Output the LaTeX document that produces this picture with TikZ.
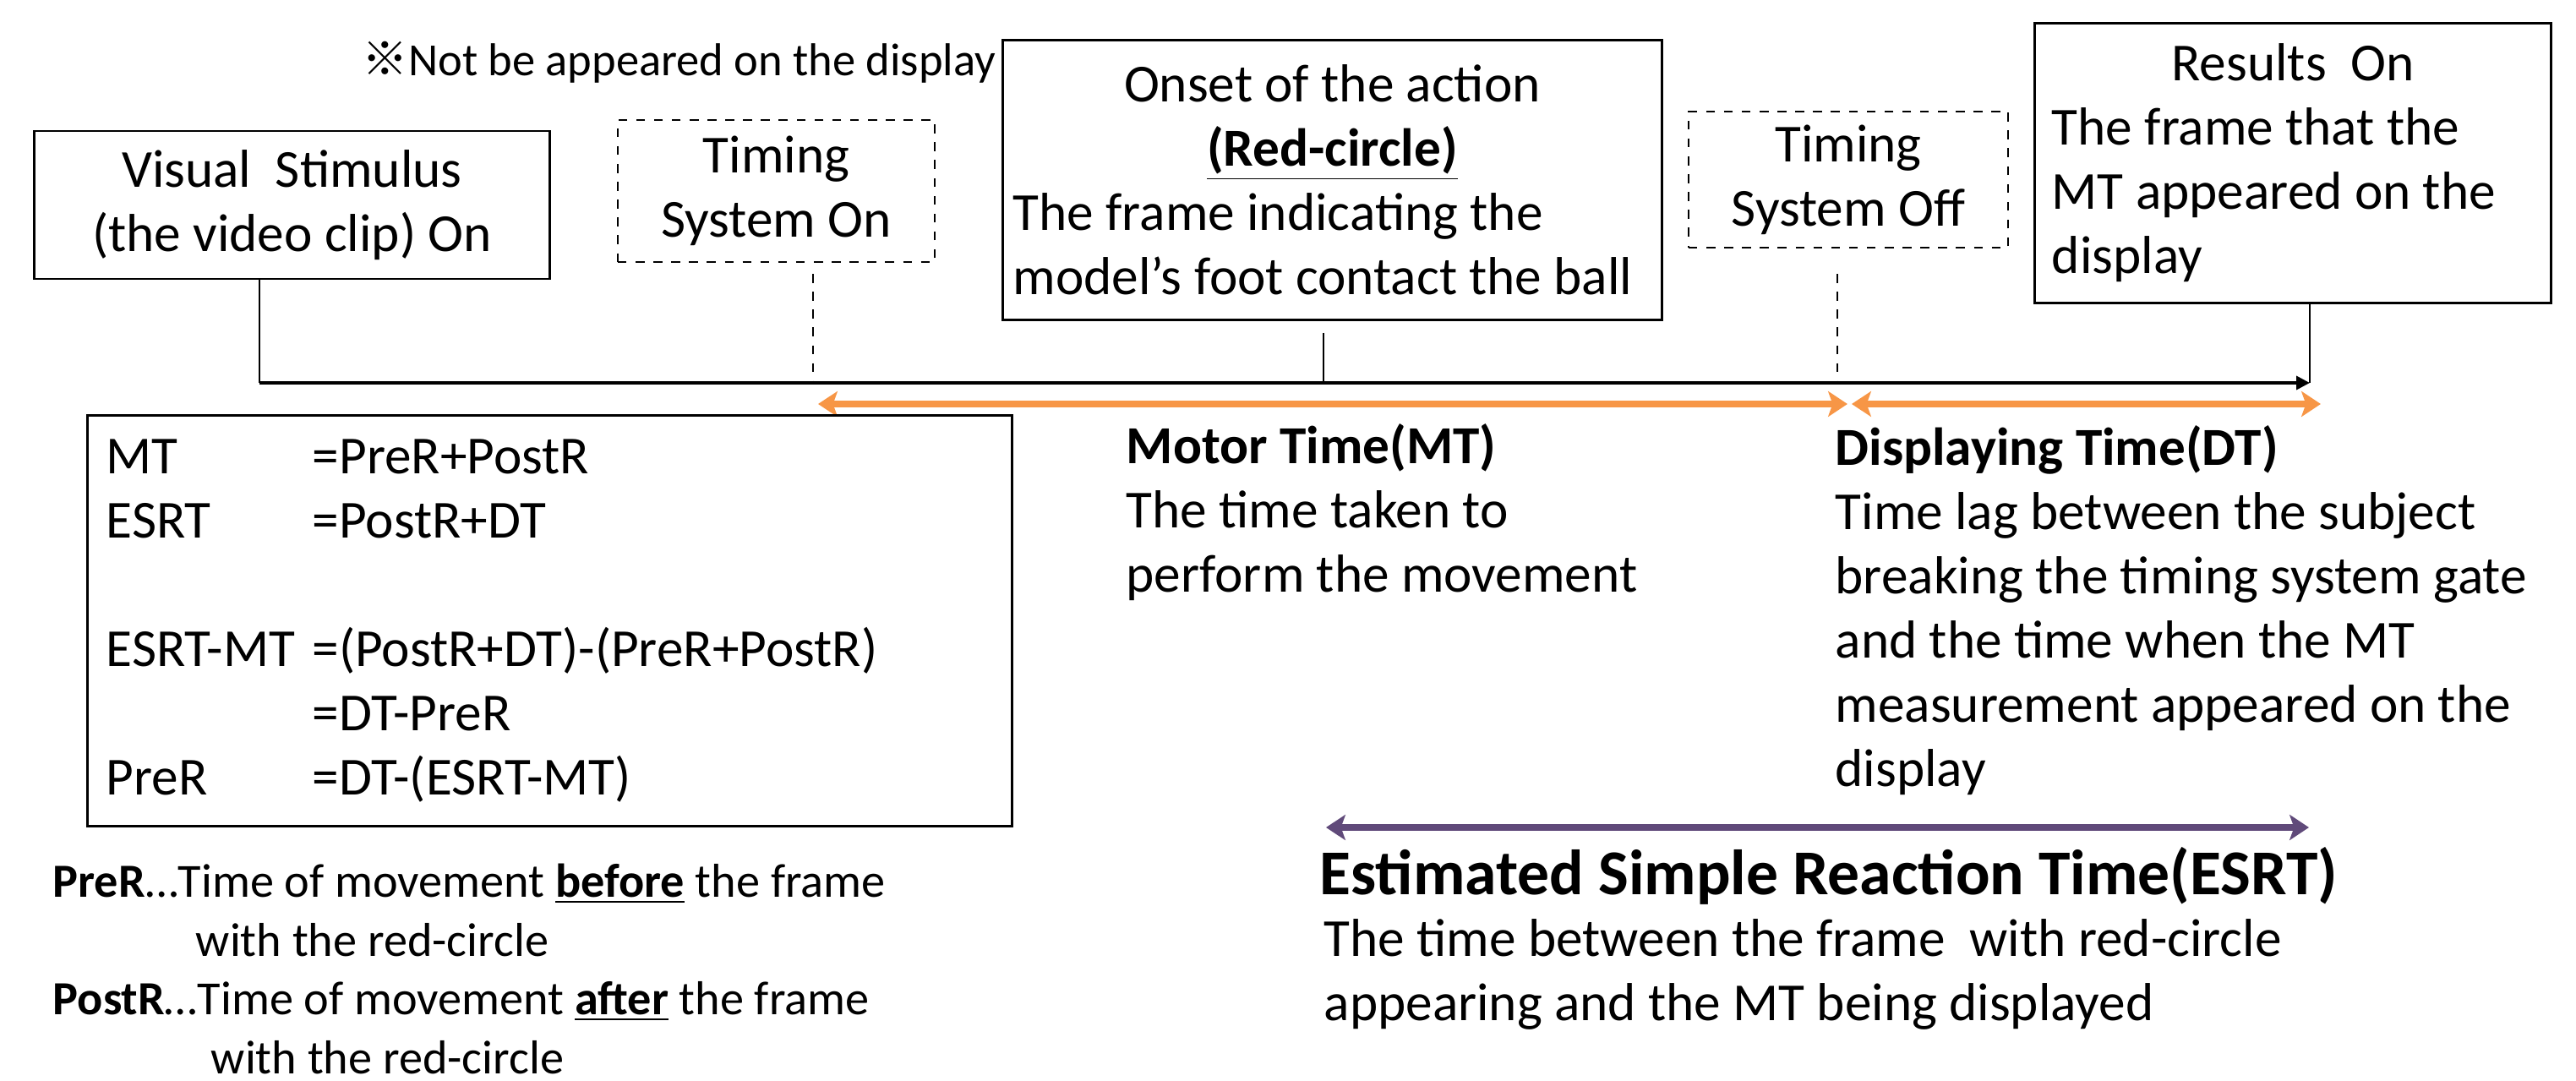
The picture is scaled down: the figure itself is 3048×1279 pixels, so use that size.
\documentclass[tikz,border=0pt]{standalone}
\usepackage{fontspec}
\setmainfont{Carlito}
\newfontfamily\cjkfont{Noto Sans CJK JP}
\usetikzlibrary{arrows.meta,positioning}
\definecolor{spanorange}{RGB}{247,150,70}
\definecolor{spanpurple}{RGB}{96,74,122}

\begin{document}
\begin{tikzpicture}[x=0.01cm,y=-0.01cm,
    font=\fontsize{18}{21.6}\selectfont,
    box/.style={draw,line width=0.8pt,inner sep=0pt},
    dbox/.style={draw,dashed,line width=0.6pt,inner sep=0pt},
    txt/.style={inner sep=0pt,anchor=west,align=left},
    tick/.style={line width=0.5pt},
    span/.style={line width=2.2pt,{Stealth[length=6.5pt,width=8.5pt,inset=1.5pt]}-{Stealth[length=6.5pt,width=8.5pt,inset=1.5pt]}}]
  \useasboundingbox (0,0) rectangle (3048,1279);
  % events above the time line
  \node (vis) [box,minimum width=6.09cm,minimum height=1.75cm,align=center] at (345.5,242.5) {Visual\ \ Stimulus\\(the video clip) On};
  \node (ton) [dbox,minimum width=3.75cm,minimum height=1.68cm,align=center] at (918.5,226) {Timing\\System On};
  \node (onset) [box,minimum width=7.79cm,minimum height=3.30cm,text width=7.55cm,align=flush left] at (1576.5,213)
    {\hspace*{\fill}Onset of the action\hspace*{\fill}\null\\\hspace*{\fill}\textbf{\underline{(Red-circle)}}\hspace*{\fill}\null\\The frame indicating the\\model’s foot contact the ball};
  \node (toff) [dbox,minimum width=3.78cm,minimum height=1.61cm,align=center] at (2187,212.5) {Timing\\System Off};
  \node (res) [box,minimum width=6.10cm,minimum height=3.30cm,text width=5.70cm,align=flush left] at (2713,193)
    {\hspace*{\fill}Results\ \ On\hspace*{\fill}\null\\The frame that the\\MT appeared on the\\display};
  \node (note) [txt,font=\fontsize{15.5}{19}\selectfont] at (428,74) {{\cjkfont ※}Not be appeared on the display};
  % time line
  \coordinate (t0) at (307,453);
  \coordinate (t1) at (2733,453);
  \coordinate (m0) at (962,453);
  \coordinate (m1) at (1566,453);
  \coordinate (m2) at (2174,453);
  \draw[tick] (vis.south -| t0) -- (t0);
  \draw[line width=1pt,-{Triangle[length=4.5pt,width=4.5pt]}] (t0) -- (t1);
  \draw[tick] (res.south -| t1) -- (t1);
  \draw[tick,dashed] (ton.south -| m0) ++(0,13) -- (m0);
  \draw[tick] (onset.south -| m1) ++(0,14) -- (m1);
  \draw[tick,dashed] (toff.south -| m2) ++(0,30) -- (m2);
  % spans
  \coordinate (a0) at (968,478);
  \coordinate (a1) at (2186,478);
  \coordinate (a2) at (2191,478);
  \coordinate (a3) at (2746,478);
  \coordinate (e0) at (1569,979);
  \coordinate (e1) at (2732,979);
  \draw[span,spanorange] (a0) -- (a1);
  \draw[span,spanorange] (a2) -- (a3);
  \draw[span,spanpurple] (e0) -- (e1);
  % descriptions
  \node (mtl) [txt] at (1332,606.5) {\textbf{Motor Time(MT)}\\The time taken to\\perform the movement};
  \node (dtl) [txt] at (2171,722.5) {\textbf{Displaying Time(DT)}\\Time lag between the subject\\breaking the timing system gate\\and the time when the MT\\measurement appeared on the\\display};
  \node (esrt) [txt,font=\fontsize{21.5}{26}\selectfont\bfseries] at (1561,1036) {Estimated Simple Reaction Time(ESRT)};
  \node (esrtd) [txt] at (1566,1153) {The time between the frame\ \ with red-circle\\appearing and the MT being displayed};
  % formulas
  \node (eqs) [box,minimum width=10.93cm,minimum height=4.85cm,text width=10.49cm,align=left] at (650.5,734.5)
    {\makebox[2.44cm][l]{MT}=PreR+PostR\\
     \makebox[2.44cm][l]{ESRT}=PostR+DT\\[21.6pt]
     \makebox[2.44cm][l]{ESRT-MT}=(PostR+DT)-(PreR+PostR)\\
     \makebox[2.44cm][l]{}=DT-PreR\\
     \makebox[2.44cm][l]{PreR}=DT-(ESRT-MT)};
  \node (defs) [txt,font=\fontsize{16}{19.8}\selectfont] at (62,1146.5)
    {\textbf{PreR}…Time of movement \textbf{\underline{before}} the frame\\\hspace*{1.69cm}with the red-circle\\
     \textbf{PostR}…Time of movement \textbf{\underline{after}} the frame\\\hspace*{1.87cm}with the red-circle};
\end{tikzpicture}
\end{document}
